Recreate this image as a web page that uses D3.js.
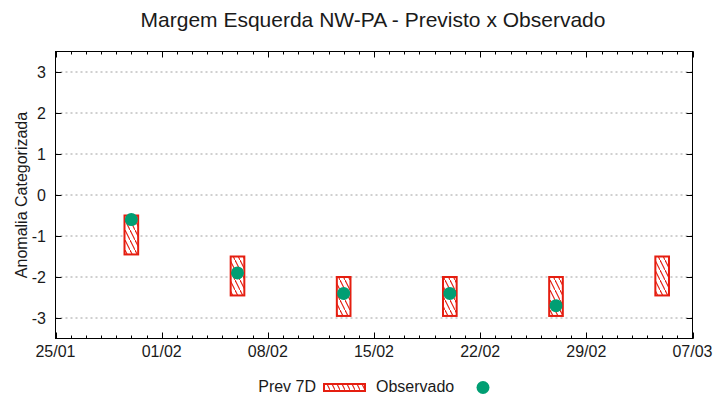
<!DOCTYPE html>
<html>
<head>
<meta charset="utf-8">
<script src="https://cdn.jsdelivr.net/npm/d3@7"></script>
<style>
  html, body { margin: 0; padding: 0; background: #fff; }
  svg { display: block; }
  text { font-family: "Liberation Sans", Arial, sans-serif; fill: #1a1a1a; }
</style>
</head>
<body>
<svg id="chart" width="720" height="400"></svg>
<script>
// ---- data ----
const dates = ["2024-01-30", "2024-02-06", "2024-02-13", "2024-02-20", "2024-02-27", "2024-03-05"];
const prevTop = [-0.5, -1.5, -2, -2, -2, -1.5];
const prevBottom = [-1.45, -2.45, -2.95, -2.95, -2.95, -2.45];
const observed = [-0.6, -1.9, -2.4, -2.4, -2.7, null];
const xTickDates = ["2024-01-25", "2024-02-01", "2024-02-08", "2024-02-15", "2024-02-22", "2024-02-29", "2024-03-07"];
const yTicks = [-3, -2, -1, 0, 1, 2, 3];
const title = "Margem Esquerda NW-PA - Previsto x Observado";
const yTitle = "Anomalia Categorizada";
const legendLabels = ["Prev 7D", "Observado"];

// ---- setup ----
const parse = d3.utcParse("%Y-%m-%d");
const fmt = d3.utcFormat("%d/%m");
const svg = d3.select("#chart");
const L = 55.5, R = 692.5, T = 51.5, B = 338.5;
const RED = "#e51e10", GREEN = "#009e73";

const x = d3.scaleUtc().domain([parse("2024-01-25"), parse("2024-03-07")]).range([L, R]);
const y = d3.scaleLinear().domain([-3.5, 3.5]).range([B, T]);

// hatch pattern (steep "\" lines)
const defs = svg.append("defs");
const pat = defs.append("pattern").attr("id", "hatch").attr("patternUnits", "userSpaceOnUse")
  .attr("width", 5).attr("height", 10);
pat.append("rect").attr("width", 5).attr("height", 10).attr("fill", "#fff");
pat.append("path").attr("d", "M-0.5,-1 L5.5,11")
  .attr("stroke", RED).attr("stroke-width", 1.1);

// grid
svg.append("g").selectAll("line").data(yTicks).join("line")
  .attr("x1", L).attr("x2", R)
  .attr("y1", d => y(d)).attr("y2", d => y(d))
  .attr("stroke", "#a0a0a0").attr("stroke-width", 1).attr("stroke-dasharray", "2,3");

// minor x ticks (daily) & major ticks
const days = d3.utcDay.range(x.domain()[0], d3.utcDay.offset(x.domain()[1], 1));
const tg = svg.append("g").attr("stroke", "#000").attr("stroke-width", 1);
days.forEach(d => {
  const xx = Math.round(x(d)) + 0.5;
  tg.append("line").attr("x1", xx).attr("x2", xx).attr("y1", B).attr("y2", B - 3);
  tg.append("line").attr("x1", xx).attr("x2", xx).attr("y1", T).attr("y2", T + 3);
});
xTickDates.forEach(s => {
  const xx = Math.round(x(parse(s))) + 0.5;
  tg.append("line").attr("x1", xx).attr("x2", xx).attr("y1", B).attr("y2", B - 6);
  tg.append("line").attr("x1", xx).attr("x2", xx).attr("y1", T).attr("y2", T + 6);
});
yTicks.forEach(v => {
  const yy = Math.round(y(v)) + 0.5;
  tg.append("line").attr("x1", L).attr("x2", L + 6).attr("y1", yy).attr("y2", yy);
  tg.append("line").attr("x1", R).attr("x2", R - 6).attr("y1", yy).attr("y2", yy);
});

// frame
svg.append("rect").attr("x", L).attr("y", T).attr("width", R - L).attr("height", B - T)
  .attr("fill", "none").attr("stroke", "#000").attr("stroke-width", 1);

// tick labels
svg.append("g").selectAll("text").data(xTickDates).join("text")
  .attr("x", d => x(parse(d))).attr("y", 357).attr("text-anchor", "middle")
  .attr("font-size", 16).text(d => fmt(parse(d)));
svg.append("g").selectAll("text").data(yTicks).join("text")
  .attr("x", 46).attr("y", d => y(d) + 5.5).attr("text-anchor", "end")
  .attr("font-size", 16).text(d => d);

// boxes
const boxW = 0.9 * (x(parse("2024-01-02")) - x(parse("2024-01-01")));
svg.append("g").selectAll("rect").data(dates).join("rect")
  .attr("x", d => x(parse(d)) - boxW / 2)
  .attr("width", boxW)
  .attr("y", (d, i) => y(prevTop[i]))
  .attr("height", (d, i) => y(prevBottom[i]) - y(prevTop[i]))
  .attr("fill", "url(#hatch)").attr("stroke", RED).attr("stroke-width", 2);

// observed points
svg.append("g").selectAll("circle").data(dates.map((d, i) => ({d, v: observed[i]})).filter(o => o.v !== null))
  .join("circle")
  .attr("cx", o => x(parse(o.d))).attr("cy", o => y(o.v)).attr("r", 6.5).attr("fill", GREEN);

// title
svg.append("text").attr("x", 373).attr("y", 27).attr("text-anchor", "middle")
  .attr("font-size", 21).text(title);

// y title
svg.append("text").attr("transform", `translate(27,${(T + B) / 2}) rotate(-90)`)
  .attr("text-anchor", "middle").attr("font-size", 16).text(yTitle);

// legend
svg.append("text").attr("x", 316).attr("y", 392).attr("text-anchor", "end").attr("font-size", 16).text(legendLabels[0]);
svg.append("rect").attr("x", 324).attr("y", 384).attr("width", 41).attr("height", 7)
  .attr("fill", "url(#hatch)").attr("stroke", RED).attr("stroke-width", 2);
svg.append("text").attr("x", 376).attr("y", 392).attr("text-anchor", "start").attr("font-size", 16).text(legendLabels[1]);
svg.append("circle").attr("cx", 483).attr("cy", 387.5).attr("r", 6.5).attr("fill", GREEN);
</script>
</body>
</html>
